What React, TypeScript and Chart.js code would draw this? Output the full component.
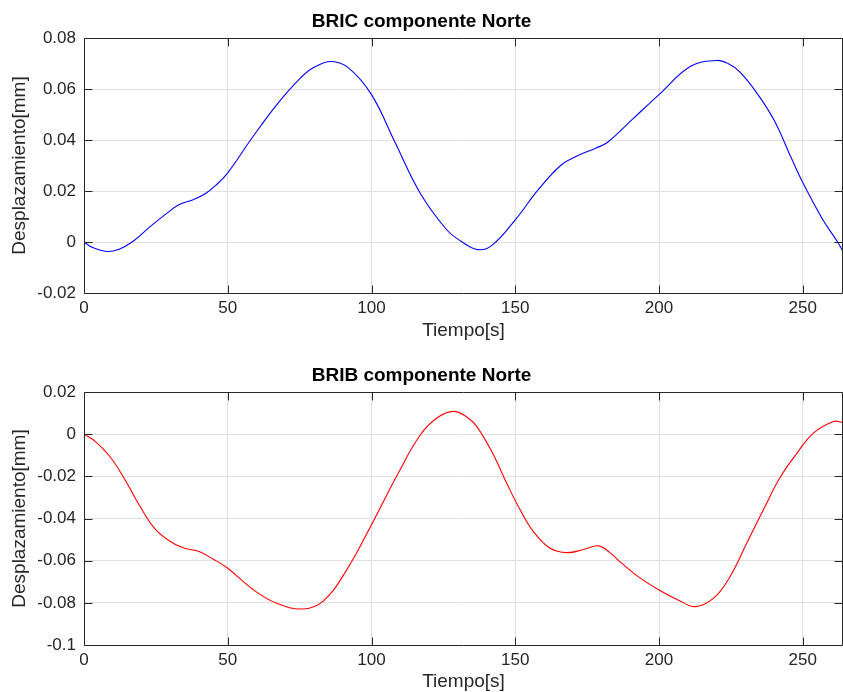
import React, { useEffect, useRef } from 'react';
import { Chart, registerables } from 'chart.js';

Chart.register(...registerables);

// ---- Data ----
const timeBric = [0, 3, 8, 12, 17, 23, 29, 33, 38, 42, 46, 50, 58, 67, 75, 80, 86, 92, 100, 108, 117, 126, 131, 137, 142, 150, 158, 166, 172, 178, 182, 191, 200, 211, 220, 224, 228, 234, 240, 246, 250, 257, 262, 264];
const dispBric = [0, -0.0022, -0.0037, -0.0029, 0.0002, 0.0060, 0.0114, 0.0146, 0.0166, 0.0188, 0.0224, 0.0271, 0.0401, 0.0538, 0.0640, 0.0685, 0.0708, 0.0683, 0.0578, 0.0395, 0.0190, 0.0050, 0.0004, -0.0030, -0.0012, 0.0087, 0.0205, 0.0302, 0.0340, 0.0368, 0.0390, 0.0484, 0.0578, 0.0689, 0.0712, 0.0700, 0.0668, 0.0585, 0.0478, 0.0330, 0.0233, 0.0087, 0.0002, -0.0037];

const timeBrib = [0, 4, 9, 14, 19.5, 25, 31, 35, 40, 45, 50, 59, 67, 76, 83, 91, 100, 109, 117, 123, 128.5, 133, 136.6, 142.4, 147, 151.7, 156.3, 162, 168, 174, 179, 183, 187, 193.5, 200, 207, 212.6, 219, 224.7, 230.5, 236.3, 242, 248, 253.7, 260.7, 264];
const dispBrib = [0, -0.0035, -0.0106, -0.0210, -0.0343, -0.0454, -0.0517, -0.0541, -0.0557, -0.0593, -0.0636, -0.0739, -0.0802, -0.0829, -0.0794, -0.0652, -0.0430, -0.0193, -0.0003, 0.0079, 0.0108, 0.0083, 0.0037, -0.0098, -0.0232, -0.0359, -0.0462, -0.0540, -0.0562, -0.0546, -0.0530, -0.0563, -0.0612, -0.0683, -0.0739, -0.0789, -0.0818, -0.0778, -0.0676, -0.0517, -0.0359, -0.0208, -0.0090, 0.0005, 0.0060, 0.0056];

const xTicks = [0, 50, 100, 150, 200, 250];
const xTickLabels = ['0', '50', '100', '150', '200', '250'];
const yTicksBric = [-0.02, 0, 0.02, 0.04, 0.06, 0.08];
const yTickLabelsBric = ['-0.02', '0', '0.02', '0.04', '0.06', '0.08'];
const yTicksBrib = [-0.1, -0.08, -0.06, -0.04, -0.02, 0, 0.02];
const yTickLabelsBrib = ['-0.1', '-0.08', '-0.06', '-0.04', '-0.02', '0', '0.02'];

const titleBric = 'BRIC componente Norte';
const titleBrib = 'BRIB componente Norte';
const xLabel = 'Tiempo[s]';
const yLabel = 'Desplazamiento[mm]';

const FONT = "'Liberation Sans', Arial, Helvetica, sans-serif";
const TEXT = '#262626';
const GRID = '#e0e0e0';

const axesBoxPlugin = {
  id: 'axesBox',
  afterDatasetsDraw(chart: any) {
    const { ctx, chartArea: a } = chart;
    const xs = chart.scales.x;
    const ys = chart.scales.y;
    const L = Math.round(a.left) + 0.5;
    const R = Math.min(Math.round(a.right), chart.width) - 0.5;
    const T = Math.round(a.top) + 0.5;
    const B = Math.round(a.bottom) + 0.5;
    const tl = 8;
    ctx.save();
    ctx.strokeStyle = TEXT;
    ctx.lineWidth = 1;
    ctx.beginPath();
    ctx.rect(L, T, R - L, B - T);
    for (const t of xs.ticks) {
      const p = Math.round(xs.getPixelForValue(t.value)) + 0.5;
      ctx.moveTo(p, B);
      ctx.lineTo(p, B - tl);
      ctx.moveTo(p, T);
      ctx.lineTo(p, T + tl);
    }
    for (const t of ys.ticks) {
      const p = Math.round(ys.getPixelForValue(t.value)) + 0.5;
      ctx.moveTo(L, p);
      ctx.lineTo(L + tl, p);
      ctx.moveTo(R, p);
      ctx.lineTo(R - tl, p);
    }
    ctx.stroke();
    ctx.restore();
  },
};

type PanelProps = {
  title: string;
  times: number[];
  values: number[];
  color: string;
  yTicks: number[];
  yLabels: string[];
  height: number;
  plotBottom: number;
  xTitlePadBottom: number;
};

function Panel(props: PanelProps) {
  const ref = useRef<HTMLCanvasElement | null>(null);
  useEffect(() => {
    if (!ref.current) return;
    const { title, times, values, color, yTicks, yLabels, height, plotBottom, xTitlePadBottom } = props;
    const chart = new Chart(ref.current, {
      type: 'line',
      data: {
        datasets: [
          {
            data: times.map((t, i) => ({ x: t, y: values[i] })),
            borderColor: color,
            borderWidth: 1.1,
            pointRadius: 0,
            fill: false,
            tension: 0.4,
          },
        ],
      },
      plugins: [axesBoxPlugin],
      options: {
        responsive: false,
        animation: false,
        events: [],
        layout: { padding: 0, autoPadding: false },
        plugins: {
          legend: { display: false },
          tooltip: { enabled: false },
          title: {
            display: true,
            text: title,
            color: '#000',
            font: { family: FONT, size: 19, weight: 'bold', lineHeight: 1.2 },
            padding: { top: 10, bottom: 5.2 },
          },
        },
        scales: {
          x: {
            type: 'linear',
            min: 0,
            max: 264,
            afterBuildTicks: (s: any) => {
              s.ticks = xTicks.map((v) => ({ value: v }));
            },
            afterFit: (s: any) => {
              s.height = height - plotBottom;
            },
            ticks: {
              callback: (_v: any, i: number) => xTickLabels[i],
              color: TEXT,
              font: { family: FONT, size: 17 },
              padding: 5,
              maxRotation: 0,
              autoSkip: false,
            },
            grid: { color: GRID, lineWidth: 1, drawTicks: false, tickLength: 0 },
            border: { display: false },
            title: {
              display: true,
              text: xLabel,
              color: TEXT,
              font: { family: FONT, size: 19, lineHeight: 1.0 },
              padding: { top: 0, bottom: xTitlePadBottom },
            },
          },
          y: {
            type: 'linear',
            min: yTicks[0],
            max: yTicks[yTicks.length - 1],
            afterBuildTicks: (s: any) => {
              s.ticks = yTicks.map((v) => ({ value: v }));
            },
            afterFit: (s: any) => {
              s.width = 84;
            },
            ticks: {
              callback: (_v: any, i: number) => yLabels[i],
              color: TEXT,
              font: { family: FONT, size: 17 },
              padding: 8,
              autoSkip: false,
            },
            grid: { color: GRID, lineWidth: 1, drawTicks: false, tickLength: 0 },
            border: { display: false },
            title: {
              display: true,
              text: yLabel,
              color: TEXT,
              font: { family: FONT, size: 19, lineHeight: 1.2 },
              padding: { top: 8, bottom: 0 },
            },
          },
        },
      } as any,
    });
    return () => chart.destroy();
  }, []);
  return <canvas ref={ref} width={843} height={props.height} style={{ display: 'block' }} />;
}

export default function App() {
  return (
    <div style={{ position: 'absolute', left: 0, top: 0, width: 843, height: 692, background: '#fff', overflow: 'hidden' }}>
      <div style={{ position: 'absolute', left: 0, top: 0 }}>
        <Panel
          title={titleBric}
          times={timeBric}
          values={dispBric}
          color="#0000ff"
          yTicks={yTicksBric}
          yLabels={yTickLabelsBric}
          height={354}
          plotBottom={293}
          xTitlePadBottom={13.5}
        />
      </div>
      <div style={{ position: 'absolute', left: 0, top: 354 }}>
        <Panel
          title={titleBrib}
          times={timeBrib}
          values={dispBrib}
          color="#ff0000"
          yTicks={yTicksBrib}
          yLabels={yTickLabelsBrib}
          height={338}
          plotBottom={291}
          xTitlePadBottom={0.5}
        />
      </div>
    </div>
  );
}
